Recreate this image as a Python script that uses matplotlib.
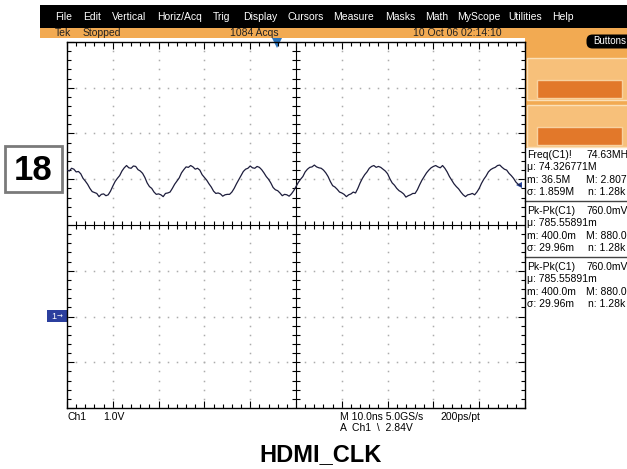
import numpy as np
import matplotlib.pyplot as plt
from matplotlib.patches import Rectangle, FancyBboxPatch
from matplotlib.ticker import MultipleLocator

W, H = 627, 469

# acquired trace, one sample every 0.5 ns starting at -50 ns (volts)
t_start_ns = -50.0
t_step_ns = 0.5
trace_v = [
    3.20, 3.18, 3.24, 3.22, 3.16, 3.17, 3.12, 3.02, 2.96, 2.89, 2.80, 2.73, 2.71, 2.69, 2.62, 2.67, 2.68, 2.64, 2.66, 2.74,
    2.85, 2.95, 3.02, 3.08, 3.18, 3.25, 3.30, 3.25, 3.24, 3.29, 3.28, 3.21, 3.18, 3.13, 3.04, 2.92, 2.84, 2.80, 2.72, 2.67,
    2.68, 2.66, 2.62, 2.69, 2.70, 2.72, 2.80, 2.89, 2.96, 3.03, 3.14, 3.21, 3.27, 3.26, 3.30, 3.27, 3.22, 3.24, 3.20, 3.10,
    3.04, 2.98, 2.90, 2.83, 2.74, 2.69, 2.70, 2.68, 2.63, 2.66, 2.67, 2.67, 2.72, 2.80, 2.90, 2.99, 3.08, 3.17, 3.22, 3.24,
    3.29, 3.25, 3.24, 3.28, 3.26, 3.21, 3.14, 3.06, 3.00, 2.92, 2.82, 2.77, 2.75, 2.70, 2.64, 2.67, 2.66, 2.63, 2.68, 2.75,
    2.84, 2.93, 3.00, 3.06, 3.16, 3.22, 3.26, 3.27, 3.31, 3.27, 3.25, 3.24, 3.20, 3.14, 3.06, 2.95, 2.86, 2.83, 2.78, 2.72,
    2.70, 2.67, 2.62, 2.66, 2.68, 2.72, 2.70, 2.80, 2.92, 3.02, 3.10, 3.16, 3.24, 3.28, 3.30, 3.26, 3.28, 3.26, 3.22, 3.18,
    3.12, 3.01, 2.92, 2.87, 2.80, 2.75, 2.72, 2.68, 2.61, 2.64, 2.66, 2.69, 2.69, 2.77, 2.88, 2.98, 3.06, 3.14, 3.20, 3.25,
    3.28, 3.30, 3.27, 3.25, 3.30, 3.24, 3.16, 3.06, 2.98, 2.90, 2.84, 2.79, 2.72, 2.66, 2.62, 2.66, 2.67, 2.69, 2.66, 2.72,
    2.80, 2.91, 3.00, 3.07, 3.16, 3.21, 3.24, 3.26, 3.30, 3.31, 3.26, 3.22, 3.20, 3.13, 3.08, 3.02, 2.94, 2.89, 2.86,
]

# scope settings
volts_per_div = 1.0
ns_per_div = 10.0
ch1_offset_div = -2.0

menu_items = ["File", "Edit", "Vertical", "Horiz/Acq", "Trig", "Display",
              "Cursors", "Measure", "Masks", "Math", "MyScope", "Utilities", "Help"]
status_items = ["Tek", "Stopped", "1084 Acqs", "10 Oct 06 02:14:10"]

# readouts as visible on screen (right column is cut by the screen edge)
meas_titles = ["Freq(C1)!", "Pk-Pk(C1)", "Pk-Pk(C1)"]
meas_values = ["74.63MH", "760.0mV", "760.0mV"]
meas_mean = ["74.326771M", "785.55891m", "785.55891m"]
meas_min = ["36.5M", "400.0m", "400.0m"]
meas_max = ["2.807", "880.0", "880.0"]
meas_sd = ["1.859M", "29.96m", "29.96m"]
meas_n = ["1.28k", "1.28k", "1.28k"]

page_number = "18"
caption = "HDMI_CLK"

# layout (pixels)
menu_x = [55, 83, 112, 157, 213, 243, 287, 333, 385, 425, 457, 508, 552]
status_x = [55, 83, 230, 413]
grid_l, grid_r, grid_t, grid_b = 67, 525, 42, 408

ui_font = ["Liberation Sans", "DejaVu Sans"]
orange = "#f2aa52"
orange_light = "#f7c07a"
orange_dark = "#e2782a"

fig = plt.figure(figsize=(W / 100, H / 100), dpi=100)
bg = fig.add_axes([0, 0, 1, 1])
bg.set_xlim(0, W)
bg.set_ylim(H, 0)
bg.axis("off")

# menu + status bars
bg.add_patch(Rectangle((40, 5), W - 40, 23, color="black", lw=0))
for name, x in zip(menu_items, menu_x):
    bg.text(x, 16.5, name, color="white", fontsize=7.5, family=ui_font, va="center")
bg.add_patch(Rectangle((40, 28), W - 40, 10, color=orange, lw=0))
for name, x in zip(status_items, status_x):
    bg.text(x, 33, name, color="#222222", fontsize=7.5, family=ui_font, va="center")

# right side button panel
bg.add_patch(Rectangle((grid_r, 38), W - grid_r, 110, color=orange, lw=0))
for y0 in [58, 105]:
    bg.add_patch(Rectangle((grid_r + 2, y0), W - grid_r, 42, facecolor=orange_light,
                           edgecolor="#fbe0b8", lw=1))
    bg.add_patch(Rectangle((537, y0 + 22), 85, 18, facecolor=orange_dark,
                           edgecolor="#f8d2a0", lw=1))
bg.add_patch(FancyBboxPatch((588, 36), 45, 11, boxstyle="round,pad=1.5,rounding_size=6",
                            color="black", lw=0))
bg.text(593, 41.5, "Buttons", color="white", fontsize=7, family=ui_font, va="center")

# measurement readouts
row_h = 12.3
for i in range(3):
    y0 = 155 + i * 56
    bg.text(527, y0, meas_titles[i], fontsize=7.5, family=ui_font, va="center")
    bg.text(586, y0, meas_values[i], fontsize=7.5, family=ui_font, va="center")
    bg.text(527, y0 + row_h, "\u03bc: " + meas_mean[i], fontsize=7.5, family=ui_font, va="center")
    bg.text(527, y0 + 2 * row_h, "m: " + meas_min[i], fontsize=7.5, family=ui_font, va="center")
    bg.text(586, y0 + 2 * row_h, "M: " + meas_max[i], fontsize=7.5, family=ui_font, va="center")
    bg.text(527, y0 + 3 * row_h, "\u03c3: " + meas_sd[i], fontsize=7.5, family=ui_font, va="center")
    bg.text(588, y0 + 3 * row_h, "n: " + meas_n[i], fontsize=7.5, family=ui_font, va="center")
for ys in [201, 257]:
    bg.plot([grid_r, W], [ys, ys], color="#444444", lw=1)

# scope graticule
ax = fig.add_axes([grid_l / W, 1 - grid_b / H, (grid_r - grid_l) / W, (grid_b - grid_t) / H])
y_lo = (-4 - ch1_offset_div) * volts_per_div
y_hi = (4 - ch1_offset_div) * volts_per_div
y_mid = (y_lo + y_hi) / 2
ax.set_xlim(-5 * ns_per_div, 5 * ns_per_div)
ax.set_ylim(y_lo, y_hi)
ax.patch.set_alpha(0)
ax.xaxis.set_major_locator(MultipleLocator(ns_per_div))
ax.xaxis.set_minor_locator(MultipleLocator(ns_per_div / 5))
ax.yaxis.set_major_locator(MultipleLocator(volts_per_div))
ax.yaxis.set_minor_locator(MultipleLocator(volts_per_div / 5))
ax.tick_params(which="both", direction="in", top=True, right=True,
               labelbottom=False, labelleft=False, color="black", width=0.8)
ax.tick_params(which="major", length=5)
ax.tick_params(which="minor", length=3)
for s in ax.spines.values():
    s.set_linewidth(1.0)

# dotted division lines
xs_minor = np.arange(-5, 5.01, 0.2) * ns_per_div
ys_minor = y_lo + np.arange(0, 8.01, 0.2) * volts_per_div
for k in [-4, -3, -2, -1, 1, 2, 3, 4]:
    ax.plot(np.full_like(ys_minor, k * ns_per_div), ys_minor, ls="none", marker="s",
            ms=1.1, color="#acacac", mew=0)
for k in [-3, -2, -1, 1, 2, 3]:
    yy = y_mid + k * volts_per_div
    ax.plot(xs_minor, np.full_like(xs_minor, yy), ls="none", marker="s",
            ms=1.1, color="#acacac", mew=0)
ax.axhline(y_mid, color="black", lw=0.8)
ax.axvline(0, color="black", lw=0.8)
ax.plot(xs_minor, np.full_like(xs_minor, y_mid), ls="none", marker="|", ms=6,
        mew=0.8, color="black")
ax.plot(np.zeros_like(ys_minor), ys_minor, ls="none", marker="_", ms=6,
        mew=0.8, color="black")

# trace
t_ns = t_start_ns + t_step_ns * np.arange(len(trace_v))
ax.plot(t_ns, trace_v, color="#1d1d3c", lw=0.9, zorder=5)

# markers
bg.plot(277, 43, marker="v", ms=7, color="#2b74bd", mew=0)
bg.plot(519, 185, marker="<", ms=5, color="#24449c", mew=0)
gnd_y = grid_t + (grid_b - grid_t) * (y_hi - 0) / (y_hi - y_lo)
bg.add_patch(Rectangle((47, gnd_y - 6.5), 20, 12, color="#2b3f9e", lw=0))
bg.text(51, gnd_y, "1", color="white", fontsize=6.5, family=ui_font, va="center")
bg.text(57, gnd_y, "\u2192", color="white", fontsize=5, family="DejaVu Sans", va="center")

# readout under graticule
bg.text(68, 417, "Ch1", fontsize=7.5, family=ui_font, va="center")
bg.text(103, 417, "%.1fV" % volts_per_div, fontsize=7.5, family=ui_font, va="center")
bg.text(340, 417, "M %.1fns 5.0GS/s" % ns_per_div, fontsize=7.5, family=ui_font, va="center")
bg.text(440, 417, "200ps/pt", fontsize=7.5, family=ui_font, va="center")
bg.text(340, 428, "A  Ch1  \\  2.84V", fontsize=7.5, family=ui_font, va="center")

# page number and caption
bg.add_patch(Rectangle((5, 146), 57, 46, facecolor="white", edgecolor="#7a7a7a", lw=2))
bg.text(33.5, 170, page_number, fontsize=25, fontweight="bold",
        family="Liberation Sans", ha="center", va="center")
bg.text(321, 455, caption, fontsize=17, fontweight="bold",
        family="Liberation Sans", ha="center", va="center")

fig.savefig("out.png", dpi=100)
